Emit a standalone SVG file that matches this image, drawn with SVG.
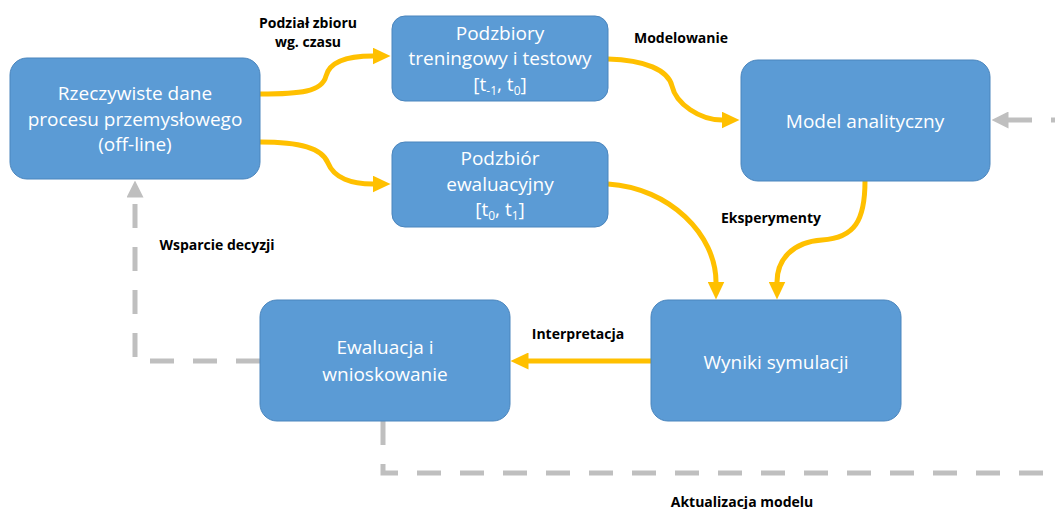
<svg xmlns="http://www.w3.org/2000/svg" width="1055" height="509" viewBox="0 0 1055 509">
  <style>
    .box { fill: #5B9BD5; stroke: #4A85BD; stroke-width: 1; }
    .boxtext { font-family: "Open Sans", "Liberation Sans", sans-serif; font-size: 19px; fill: #FFFFFF; text-anchor: middle; }
    .sub { font-size: 12px; }
    .label { font-family: "Open Sans", "Liberation Sans", sans-serif; font-size: 14px; font-weight: bold; fill: #000000; text-anchor: middle; }
    .flow { fill: none; stroke: #FFC000; stroke-width: 5; marker-end: url(#arrowYellow); }
    .feedback { fill: none; stroke: #BFBFBF; stroke-width: 5; stroke-dasharray: 24 19; }
  </style>
  <defs>
    <marker id="arrowYellow" viewBox="0 0 18 17" refX="0.5" refY="8.5" markerWidth="18" markerHeight="17" markerUnits="userSpaceOnUse" orient="auto">
      <path d="M0,0 L18,8.5 L0,17 Z" fill="#FFC000"/>
    </marker>
    <marker id="arrowGrey" viewBox="0 0 17 17" refX="0.5" refY="8.5" markerWidth="17" markerHeight="17" markerUnits="userSpaceOnUse" orient="auto">
      <path d="M0,0 L17,8.5 L0,17 Z" fill="#BFBFBF"/>
    </marker>
  </defs>

  <!-- connectors -->
  <g id="connectors">
    <path class="flow" d="M260,94 C300,94 322,92 326,76 C330,60 350,56 373,56"/>
    <path class="flow" d="M260,142 C300,142 322,148 328,163 C334,178 352,184 373,184"/>
    <path class="flow" d="M608,59 C645,60 668,70 672,86 C676,104 700,120 722,120"/>
    <path class="flow" d="M608,184 C670,188 716,235 716,282"/>
    <path class="flow" d="M865,181 C865,220 855,238 822,240 C792,242 777,260 777,282"/>
    <path class="flow" d="M651,361 H528"/>
    <path class="feedback" d="M260,361 H135 V197" marker-end="url(#arrowGrey)"/>
    <path class="feedback" d="M383,421 V473 H1060"/>
    <path class="feedback" d="M1075,120 H1008" marker-end="url(#arrowGrey)"/>
  </g>

  <!-- connector labels -->
  <g id="labels">
    <text class="label" x="308" y="28">Podział zbioru</text>
    <text class="label" x="308" y="47">wg. czasu</text>
    <text class="label" x="681" y="43">Modelowanie</text>
    <text class="label" x="771" y="223">Eksperymenty</text>
    <text class="label" x="217" y="250">Wsparcie decyzji</text>
    <text class="label" x="578" y="339">Interpretacja</text>
    <text class="label" x="742" y="507">Aktualizacja modelu</text>
  </g>

  <g id="node-dane">
    <rect class="box" x="10" y="58" width="250" height="121" rx="17"/>
    <text class="boxtext" x="135" y="100">Rzeczywiste dane</text>
    <text class="boxtext" x="135" y="126">procesu przemysłowego</text>
    <text class="boxtext" x="135" y="151">(off-line)</text>
  </g>

  <g id="node-podzbiory">
    <rect class="box" x="392" y="16" width="216" height="85" rx="13"/>
    <text class="boxtext" x="500" y="40">Podzbiory</text>
    <text class="boxtext" x="500" y="65">treningowy i testowy</text>
    <text class="boxtext" x="500" y="91">[t<tspan class="sub" dy="4">-1</tspan><tspan dy="-4">, t</tspan><tspan class="sub" dy="4">0</tspan><tspan dy="-4">]</tspan></text>
  </g>

  <g id="node-ewaluacyjny">
    <rect class="box" x="392" y="142" width="216" height="85" rx="13"/>
    <text class="boxtext" x="500" y="165">Podzbiór</text>
    <text class="boxtext" x="500" y="191">ewaluacyjny</text>
    <text class="boxtext" x="500" y="216">[t<tspan class="sub" dy="4">0</tspan><tspan dy="-4">, t</tspan><tspan class="sub" dy="4">1</tspan><tspan dy="-4">]</tspan></text>
  </g>

  <g id="node-model">
    <rect class="box" x="741" y="60" width="249" height="121" rx="17"/>
    <text class="boxtext" x="865" y="128">Model analityczny</text>
  </g>

  <g id="node-wyniki">
    <rect class="box" x="651" y="300" width="250" height="121" rx="17"/>
    <text class="boxtext" x="776" y="369">Wyniki symulacji</text>
  </g>

  <g id="node-ewaluacja">
    <rect class="box" x="260" y="300" width="250" height="121" rx="17"/>
    <text class="boxtext" x="385" y="354">Ewaluacja i</text>
    <text class="boxtext" x="385" y="381">wnioskowanie</text>
  </g>
</svg>
